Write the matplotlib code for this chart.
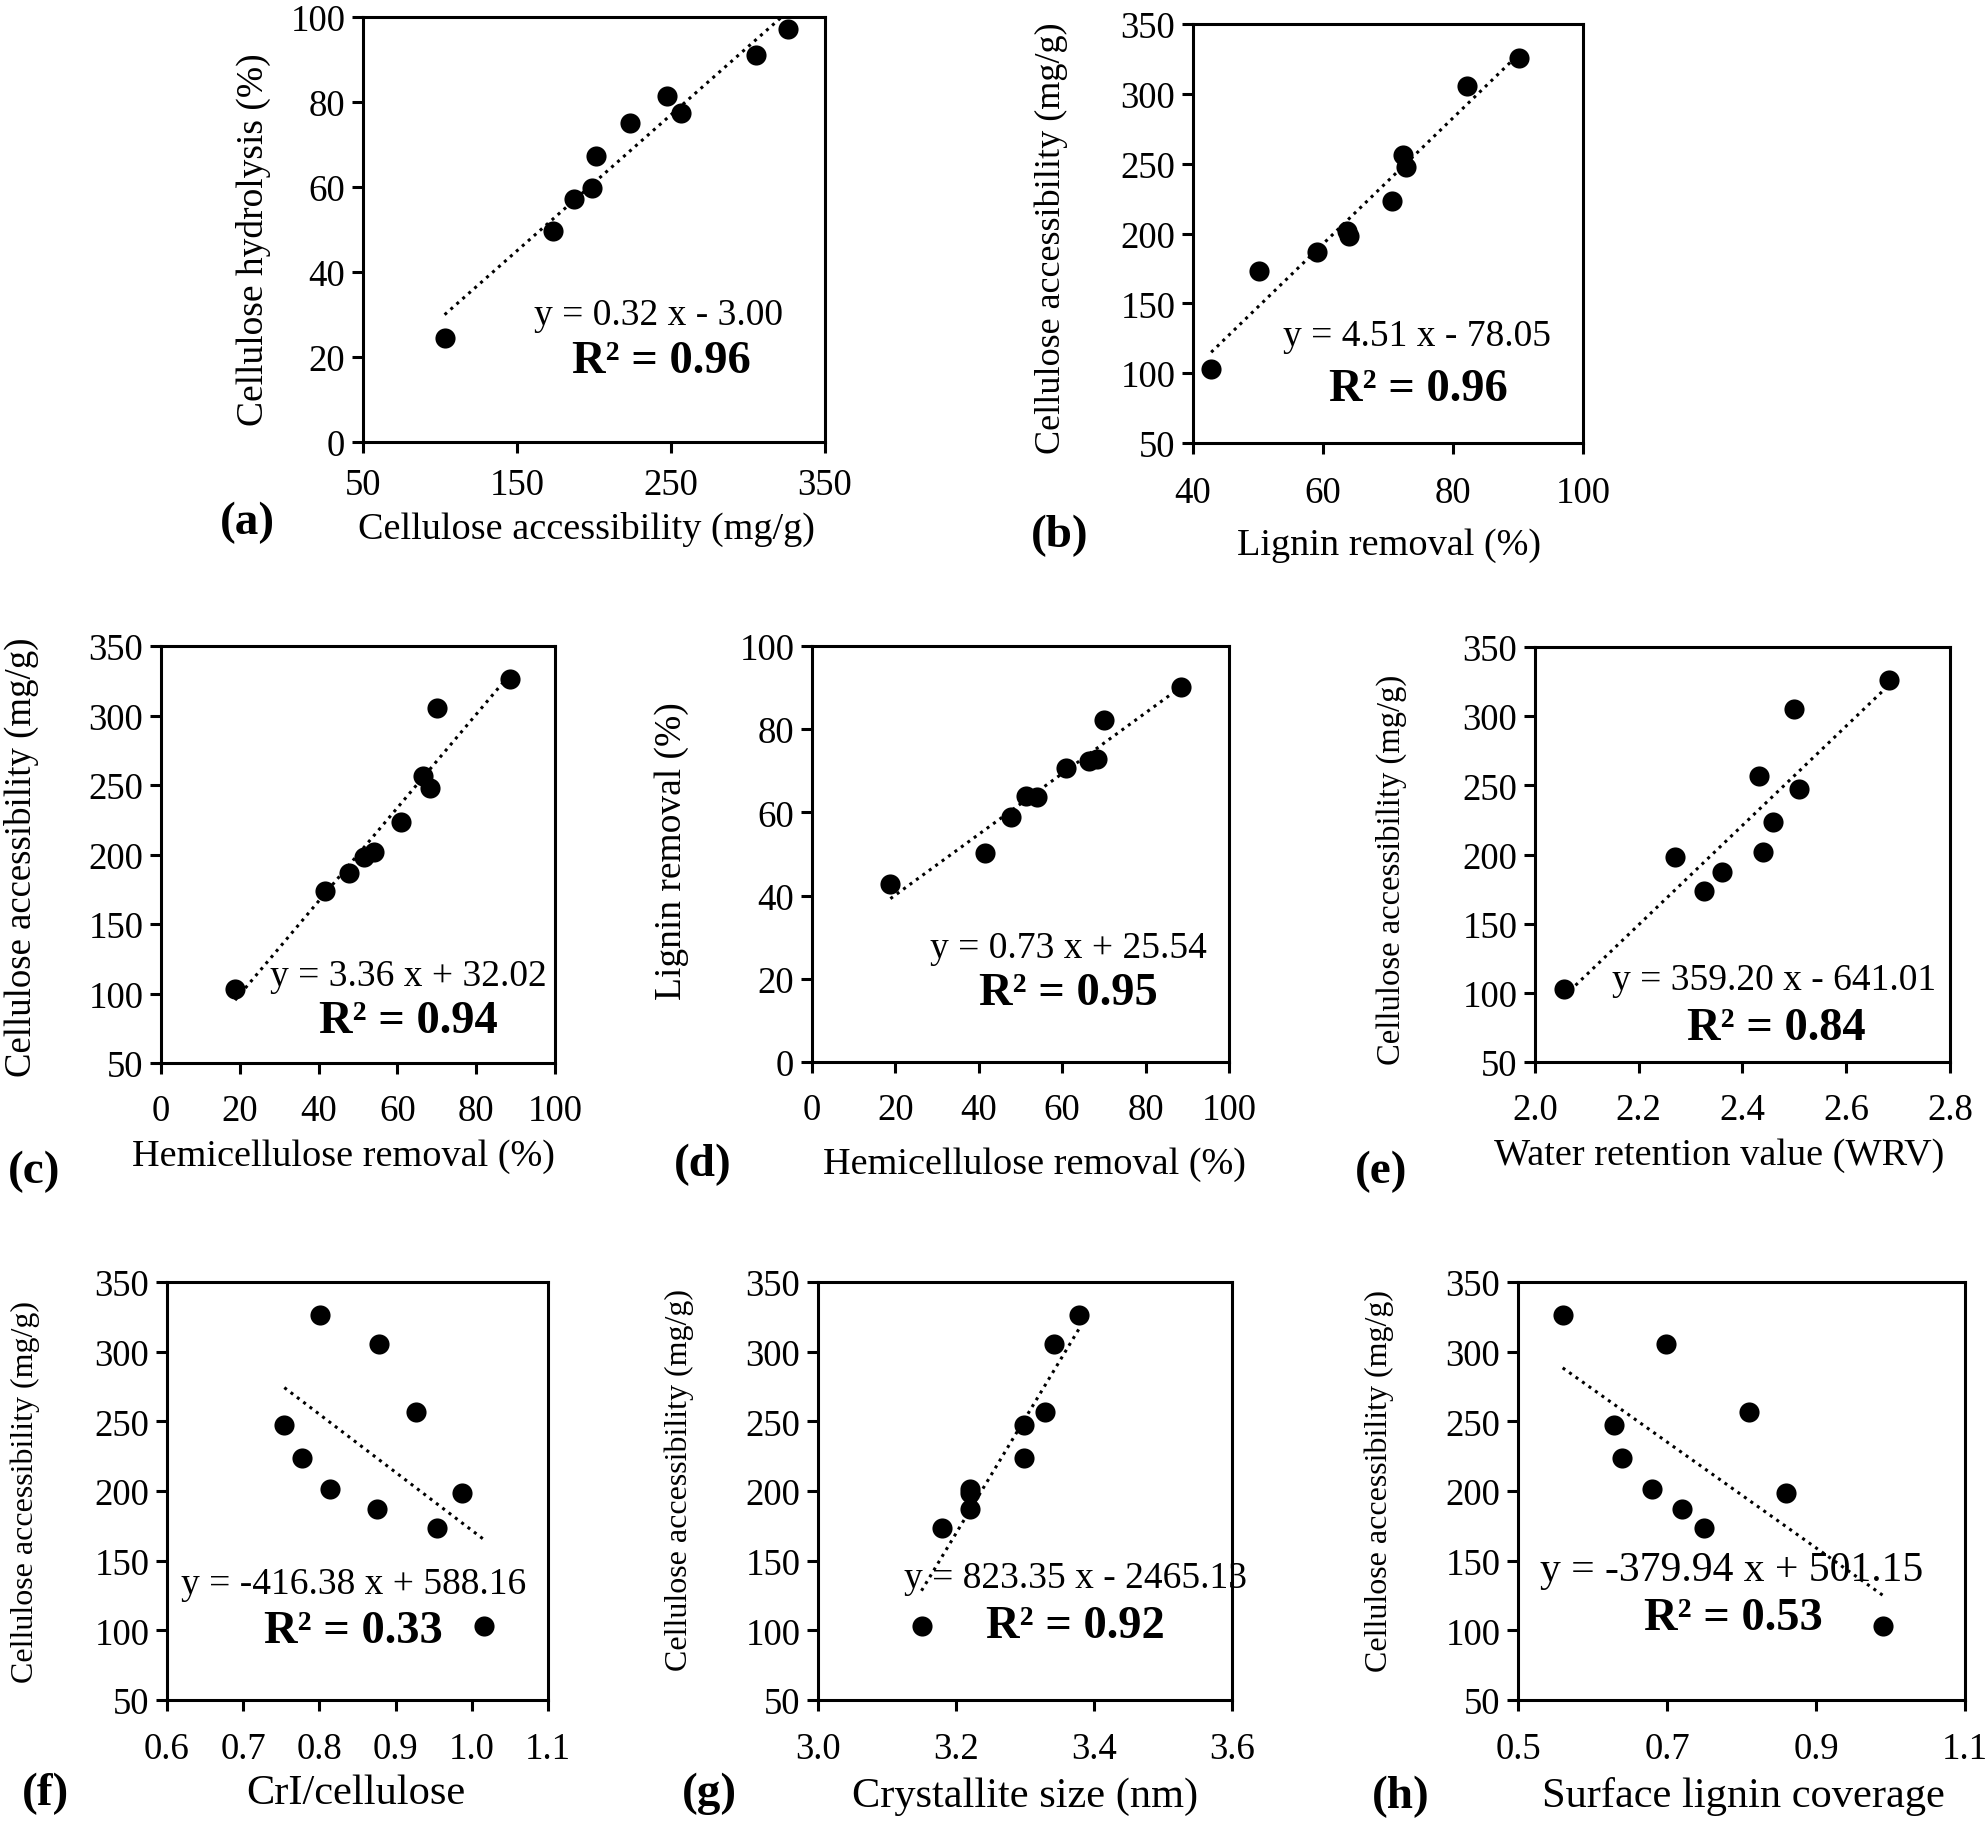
import matplotlib
matplotlib.use("Agg")
import matplotlib.pyplot as plt
import numpy as np
from matplotlib.ticker import FormatStrFormatter

plt.rcParams['font.family'] = ['Liberation Serif', 'DejaVu Serif']

# ten pretreated samples
accessibility = [103, 173.5, 187, 198.5, 201.5, 223.5, 256.5, 247.5, 305.5, 326]
hydrolysis = [24.5, 49.7, 57.1, 59.8, 67.2, 75.0, 77.5, 81.3, 91.0, 97.1]
lignin_removal = [42.8, 50.2, 59.0, 64.0, 63.7, 70.6, 72.3, 72.8, 82.1, 90.2]
hemi_removal = [18.8, 41.5, 47.8, 51.4, 54.0, 61.0, 66.4, 68.4, 70.0, 88.5]
wrv = [2.056, 2.325, 2.360, 2.270, 2.439, 2.459, 2.432, 2.508, 2.500, 2.683]
cri = [1.016, 0.954, 0.875, 0.987, 0.814, 0.777, 0.927, 0.754, 0.878, 0.801]
crystallite = [3.150, 3.180, 3.221, 3.221, 3.221, 3.299, 3.329, 3.299, 3.342, 3.378]
lignin_coverage = [0.990, 0.749, 0.720, 0.860, 0.680, 0.640, 0.810, 0.629, 0.699, 0.560]

# fitted lines as printed on the panels
slopes = [0.32, 4.51, 3.36, 0.73, 359.20, -416.38, 823.35, -379.94]
intercepts = [-3.00, -78.05, 32.02, 25.54, -641.01, 588.16, -2465.13, 501.15]
equations = ["y = 0.32 x - 3.00", "y = 4.51 x - 78.05", "y = 3.36 x + 32.02",
             "y = 0.73 x + 25.54", "y = 359.20 x - 641.01", "y = -416.38 x + 588.16",
             "y = 823.35 x - 2465.13", "y = -379.94 x + 501.15"]
r2_labels = ["R² = 0.96", "R² = 0.96", "R² = 0.94", "R² = 0.95",
             "R² = 0.84", "R² = 0.33", "R² = 0.92", "R² = 0.53"]
tags = ["(a)", "(b)", "(c)", "(d)", "(e)", "(f)", "(g)", "(h)"]

W, H = 1986, 1824
fig = plt.figure(figsize=(W / 100, H / 100), dpi=100)


def ftext(px, py, s, **kw):
    # place text at a pixel position of the final image
    return fig.text(px / W, 1 - py / H, s, ha='center', va='center', **kw)


def add_panel(i, box, x, y, xlim, xticks, ylim, yticks, xlabel, xlab_xy,
              ylabel, ylab_xy, eq_pos, r2_pos, tag_xy, xfmt=None,
              xlab_size=27.5, ylab_size=27, xpad=14, eq_size=27):
    x0, y0, x1, y1 = box
    ax = fig.add_axes([x0 / W, 1 - y1 / H, (x1 - x0) / W, (y1 - y0) / H])
    ax.scatter(x, y, s=210, color='black', zorder=3, linewidths=0)
    xs = np.array([min(x), max(x)])
    ax.plot(xs, slopes[i] * xs + intercepts[i], color='black', lw=2.2,
            linestyle=(0, (1, 1.6)), zorder=2)
    ax.set_xlim(*xlim)
    ax.set_ylim(*ylim)
    ax.set_xticks(xticks)
    ax.set_yticks(yticks)
    if xfmt:
        ax.xaxis.set_major_formatter(FormatStrFormatter(xfmt))
    ax.tick_params(direction='out', length=7.7, width=2.2, labelsize=26.5)
    ax.tick_params(axis='x', pad=xpad)
    ax.tick_params(axis='y', pad=5)
    for sp in ax.spines.values():
        sp.set_linewidth(2.2)
    ftext(*xlab_xy, xlabel, fontsize=xlab_size)
    ftext(*ylab_xy, ylabel, fontsize=ylab_size, rotation=90)
    ax.text(*eq_pos, equations[i], transform=ax.transAxes, fontsize=eq_size,
            ha='center', va='center')
    ax.text(*r2_pos, r2_labels[i], transform=ax.transAxes, fontsize=33.5,
            fontweight='bold', ha='center', va='center')
    ftext(*tag_xy, tags[i], fontsize=34, fontweight='bold')
    return ax


acc_label = "Cellulose accessibility (mg/g)"

add_panel(0, (363, 18, 825, 443), accessibility, hydrolysis,
          (50, 350), [50, 150, 250, 350], (0, 100), range(0, 101, 20),
          acc_label, (586, 529), "Cellulose hydrolysis (%)", (253, 240),
          eq_pos=(0.64, 0.30), r2_pos=(0.645, 0.19), tag_xy=(247, 523), xpad=11)
add_panel(1, (1193, 25, 1583, 444), lignin_removal, accessibility,
          (40, 100), range(40, 101, 20), (50, 350), range(50, 351, 50),
          "Lignin removal (%)", (1389, 546), acc_label, (1051, 238),
          eq_pos=(0.575, 0.255), r2_pos=(0.578, 0.13), tag_xy=(1060, 536),
          ylab_size=26, xpad=16)
add_panel(2, (161, 647, 555, 1064), hemi_removal, accessibility,
          (0, 100), range(0, 101, 20), (50, 350), range(50, 351, 50),
          "Hemicellulose removal (%)", (343, 1157), acc_label, (21, 857),
          eq_pos=(0.628, 0.21), r2_pos=(0.628, 0.10), tag_xy=(34, 1172),
          ylab_size=26.5, xpad=14)
add_panel(3, (812, 647, 1229, 1063), hemi_removal, lignin_removal,
          (0, 100), range(0, 101, 20), (0, 100), range(0, 101, 20),
          "Hemicellulose removal (%)", (1034, 1165), "Lignin removal (%)",
          (672, 851), eq_pos=(0.614, 0.275), r2_pos=(0.616, 0.167),
          tag_xy=(703, 1165), xpad=14)
add_panel(4, (1535, 648, 1950, 1063), wrv, accessibility,
          (2.0, 2.8), np.arange(2.0, 2.81, 0.2), (50, 350), range(50, 351, 50),
          "Water retention value (WRV)", (1719, 1156), acc_label, (1391, 870),
          eq_pos=(0.577, 0.198), r2_pos=(0.582, 0.082), tag_xy=(1381, 1172),
          xfmt='%.1f', ylab_size=23.5, xpad=14)
add_panel(5, (167, 1283, 548, 1701), cri, accessibility,
          (0.6, 1.1), np.arange(0.6, 1.11, 0.1), (50, 350), range(50, 351, 50),
          "CrI/cellulose", (356, 1794), acc_label, (25, 1492),
          eq_pos=(0.489, 0.279), r2_pos=(0.488, 0.164), tag_xy=(45, 1794),
          xfmt='%.1f', xlab_size=30.5, ylab_size=23, xpad=15)
add_panel(6, (818, 1283, 1232, 1701), crystallite, accessibility,
          (3.0, 3.6), np.arange(3.0, 3.61, 0.2), (50, 350), range(50, 351, 50),
          "Crystallite size (nm)", (1025, 1797), acc_label, (679, 1480),
          eq_pos=(0.622, 0.292), r2_pos=(0.622, 0.176), tag_xy=(709, 1794),
          xfmt='%.1f', xlab_size=30.5, ylab_size=23, xpad=15)
add_panel(7, (1518, 1283, 1965, 1701), lignin_coverage, accessibility,
          (0.5, 1.1), np.arange(0.5, 1.11, 0.2), (50, 350), range(50, 351, 50),
          "Surface lignin coverage", (1743, 1797), acc_label, (1379, 1481),
          eq_pos=(0.479, 0.312), r2_pos=(0.482, 0.195), tag_xy=(1401, 1797),
          xfmt='%.1f', xlab_size=30.5, ylab_size=23, xpad=15, eq_size=30)

fig.savefig("out.png", dpi=100)
